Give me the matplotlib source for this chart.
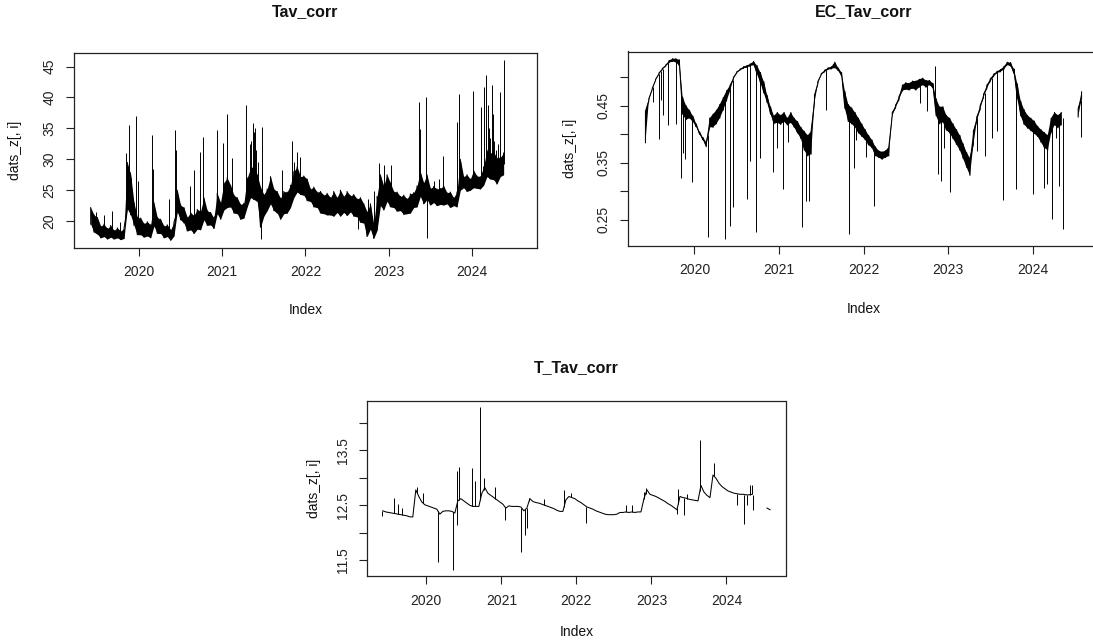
import numpy as np
import matplotlib
matplotlib.use("Agg")
import matplotlib.pyplot as plt

plt.rcParams["font.family"] = ["Liberation Sans", "DejaVu Sans"]

W, H = 1093, 642
nan = np.nan

# time index in decimal years, one row every 0.04 yr, from 2019.42 to 2024.58
index_start = 2019.42
index_step = 0.04
year_ticks = [2020, 2021, 2022, 2023, 2024]

# Tav_corr: lower and upper edge of the noisy band (one line per year)
tav_lo = [19.5, 18.2, 17.9, 17.3, 17.5, 17.1, 17.4, 17.1, 17.3, 17.0, 17.2, 22.0, 21.0, 19.3, 17.8,
          17.8, 17.4, 17.6, 17.3, 19.2, 18.0, 18.0, 17.3, 17.5, 16.9, 17.6, 21.5, 20.2, 19.7, 18.4,
          18.6, 18.0, 18.7, 18.6, 20.2, 19.3, 19.4, 18.8, 21.2, 20.3,
          21.8, 22.2, 22.3, 21.3, 21.2, 20.3, 20.5, 22.3, 23.8, 23.5, 23.2, 19.0, 20.8, 21.7, 22.8,
          21.7, 21.3, 20.3, 21.2, 21.3, 22.2, 23.8, 24.7, 24.3, 24.2,
          23.3, 23.2, 22.3, 22.2, 21.3, 21.2, 21.0, 21.0, 20.8, 21.4, 20.8, 21.4, 20.9, 21.5, 20.8,
          20.7, 19.8, 19.7, 17.5, 18.7, 17.2, 18.5, 22.5, 21.8, 23.2,
          22.3, 22.2, 21.6, 21.7, 21.1, 21.2, 21.3, 22.2, 22.3, 24.0, 22.8, 23.5, 22.6, 23.0, 22.5,
          22.7, 22.6, 22.8, 22.2, 22.5, 22.3, 25.0, 25.4, 24.8, 25.0,
          25.4, 25.3, 25.2, 25.8, 27.2, 26.8, 26.7, 26.0, 27.2, 27.5, nan, nan, nan, nan, nan]
tav_hi = [22.2, 21.0, 20.6, 19.2, 19.5, 18.8, 19.3, 18.5, 18.9, 18.4, 18.8, 29.5, 27.5, 23.0, 20.6,
          20.5, 19.6, 19.9, 19.4, 23.0, 20.6, 20.3, 19.2, 19.4, 18.6, 19.8, 25.0, 22.6, 22.2, 20.6,
          21.4, 20.9, 21.9, 21.6, 23.8, 21.7, 21.4, 20.5, 24.5, 23.0,
          26.2, 27.0, 25.8, 24.2, 23.8, 22.7, 22.9, 27.0, 28.5, 29.0, 27.5, 25.5, 24.3, 25.2, 27.2,
          25.2, 24.8, 23.7, 24.8, 24.7, 25.8, 28.0, 28.8, 27.2, 27.3,
          26.8, 25.2, 25.5, 24.7, 24.8, 24.2, 24.5, 23.8, 24.8, 23.8, 25.0, 24.0, 24.8, 24.1, 24.3,
          23.6, 23.8, 22.8, 21.5, 22.8, 19.5, 24.0, 27.5, 25.7, 27.5,
          26.2, 24.8, 24.7, 24.0, 24.2, 23.6, 24.4, 24.6, 25.7, 28.0, 26.2, 27.5, 25.3, 25.6, 25.2,
          25.3, 25.7, 24.6, 24.7, 23.8, 24.7, 30.0, 27.2, 27.5, 26.8,
          28.2, 27.3, 27.2, 28.8, 31.5, 31.0, 31.2, 30.2, 30.3, 31.0, nan, nan, nan, nan, nan]
tav_spike_t = [2019.486, 2019.586, 2019.679, 2019.767, 2019.847, 2019.880, 2019.895, 2019.905,
               2019.968, 2019.990, 2020.161, 2020.172, 2020.357, 2020.430, 2020.450, 2020.618,
               2020.663, 2020.731, 2020.775, 2020.932, 2021.004, 2021.052, 2021.120, 2021.281,
               2021.333, 2021.350, 2021.365, 2021.385, 2021.395, 2021.410, 2021.430, 2021.466,
               2021.474, 2021.723, 2021.835, 2021.859, 2021.904, 2021.930, 2022.630, 2022.755,
               2022.827, 2022.887, 2022.943, 2023.024, 2023.361, 2023.373, 2023.454, 2023.458,
               2023.550, 2023.600, 2023.651, 2023.819, 2023.839, 2024.012, 2024.108, 2024.149,
               2024.165, 2024.170, 2024.197, 2024.205, 2024.220, 2024.237, 2024.255, 2024.270,
               2024.290, 2024.310, 2024.340, 2024.380]
tav_spike_v = [21.4, 21.0, 21.7, 19.8, 31.0, 35.6, 28.0, 27.0,
               37.0, 26.5, 34.0, 28.5, 23.6, 34.8, 31.5, 25.7,
               28.3, 31.1, 33.6, 34.8, 32.6, 37.4, 30.2, 38.8,
               32.5, 33.0, 35.8, 34.4, 35.0, 31.5, 29.5, 17.1,
               35.2, 28.2, 33.0, 29.5, 31.2, 30.3, 18.7, 23.6,
               24.8, 29.4, 29.1, 29.0, 39.2, 34.9, 40.0, 17.2,
               26.5, 26.8, 30.6, 36.0, 40.5, 41.1, 38.4, 41.7,
               43.7, 36.0, 38.7, 35.0, 33.5, 42.0, 37.4, 33.0,
               31.5, 32.5, 40.8, 46.1]

# EC_Tav_corr: lower and upper edge of the line
ec_lo = [0.385, 0.458, 0.478, 0.494, 0.505, 0.513, 0.519, 0.525, 0.527, 0.526, 0.520, 0.435, 0.425, 0.428, 0.422,
         0.413, 0.400, 0.390, 0.378, 0.412, 0.412, 0.418, 0.428, 0.442, 0.458, 0.475, 0.496, 0.507, 0.512, 0.515,
         0.517, 0.519, 0.521, 0.505, 0.490, 0.472, 0.455, 0.435, 0.418, 0.420,
         0.417, 0.422, 0.416, 0.420, 0.412, 0.402, 0.392, 0.372, 0.362, 0.365, 0.455, 0.488, 0.504, 0.509, 0.513,
         0.514, 0.516, 0.511, 0.502, 0.445, 0.422, 0.418, 0.412, 0.402, 0.396,
         0.390, 0.381, 0.376, 0.362, 0.359, 0.356, 0.359, 0.362, 0.432, 0.446, 0.460, 0.476, 0.478, 0.477, 0.480,
         0.477, 0.482, 0.486, 0.482, 0.486, 0.481, 0.432, 0.418, 0.421, 0.407,
         0.402, 0.392, 0.382, 0.372, 0.357, 0.342, 0.328, 0.382, 0.422, 0.443, 0.464, 0.480, 0.492, 0.501, 0.507,
         0.509, 0.513, 0.521, 0.519, 0.506, 0.462, 0.432, 0.417, 0.411, 0.406,
         0.401, 0.396, 0.386, 0.376, 0.372, 0.402, 0.416, 0.411, 0.416, nan, nan, nan, nan, 0.430, 0.462]
ec_hi = [0.440, 0.462, 0.480, 0.496, 0.507, 0.515, 0.521, 0.529, 0.532, 0.532, 0.530, 0.465, 0.450, 0.442, 0.432,
         0.418, 0.404, 0.394, 0.386, 0.428, 0.435, 0.442, 0.452, 0.464, 0.476, 0.485, 0.499, 0.509, 0.514, 0.518,
         0.520, 0.523, 0.527, 0.520, 0.508, 0.492, 0.468, 0.448, 0.432, 0.438,
         0.433, 0.438, 0.428, 0.438, 0.428, 0.422, 0.412, 0.405, 0.398, 0.405, 0.468, 0.492, 0.506, 0.512, 0.516,
         0.518, 0.526, 0.516, 0.508, 0.475, 0.452, 0.446, 0.438, 0.428, 0.418,
         0.408, 0.398, 0.390, 0.378, 0.371, 0.369, 0.371, 0.378, 0.438, 0.451, 0.466, 0.486, 0.490, 0.489, 0.493,
         0.493, 0.496, 0.498, 0.494, 0.494, 0.489, 0.462, 0.448, 0.448, 0.433,
         0.428, 0.418, 0.408, 0.398, 0.383, 0.368, 0.358, 0.405, 0.430, 0.450, 0.470, 0.486, 0.497, 0.505, 0.510,
         0.513, 0.518, 0.526, 0.525, 0.514, 0.488, 0.458, 0.443, 0.433, 0.428,
         0.423, 0.414, 0.408, 0.403, 0.398, 0.428, 0.438, 0.433, 0.438, nan, nan, nan, nan, 0.445, 0.474]
ec_spike_t = [2019.510, 2019.577, 2019.605, 2019.625, 2019.684, 2019.783, 2019.846, 2019.870, 2019.889,
              2019.968, 2020.158, 2020.360, 2020.423, 2020.455, 2020.620, 2020.660, 2020.723, 2020.770,
              2020.929, 2020.980, 2021.051, 2021.107, 2021.206, 2021.273, 2021.324, 2021.356, 2021.561,
              2021.830, 2021.882, 2021.910, 2022.030, 2022.126, 2022.668, 2022.747, 2022.841, 2022.884,
              2022.912, 2022.951, 2023.018, 2023.344, 2023.434, 2023.521, 2023.580, 2023.646, 2023.807,
              2023.933, 2024.004, 2024.141, 2024.169, 2024.228, 2024.279, 2024.318, 2024.357, 2024.570]
ec_spike_v = [0.457, 0.392, 0.460, 0.434, 0.416, 0.417, 0.323, 0.367, 0.356,
              0.316, 0.221, 0.217, 0.240, 0.272, 0.286, 0.353, 0.229, 0.359,
              0.333, 0.376, 0.304, 0.387, 0.405, 0.237, 0.283, 0.283, 0.442,
              0.226, 0.341, 0.390, 0.360, 0.275, 0.455, 0.440, 0.520, 0.330,
              0.318, 0.375, 0.298, 0.370, 0.361, 0.393, 0.405, 0.285, 0.304,
              0.410, 0.295, 0.306, 0.312, 0.252, 0.393, 0.310, 0.234, 0.395]

# T_Tav_corr: single line
t_val = [12.40, 12.38, 12.37, 12.36, 12.35, 12.34, 12.33, 12.32, 12.31, 12.29, 12.29, 12.78, 12.66, 12.56, 12.51,
         12.49, 12.47, 12.45, 12.43, 12.34, 12.39, 12.40, 12.40, 12.39, 12.36, 12.58, 12.62, 12.58, 12.54, 12.50,
         12.48, 12.48, 12.48, 12.72, 12.82, 12.72, 12.68, 12.64, 12.60, 12.56,
         12.52, 12.45, 12.49, 12.48, 12.48, 12.48, 12.47, 12.40, 12.45, 12.62, 12.57, 12.55, 12.54, 12.52, 12.50,
         12.48, 12.46, 12.44, 12.41, 12.39, 12.39, 12.60, 12.66, 12.64, 12.62,
         12.58, 12.55, 12.51, 12.47, 12.45, 12.43, 12.40, 12.38, 12.36, 12.34, 12.33, 12.33, 12.33, 12.34, 12.37,
         12.37, 12.38, 12.37, 12.38, 12.37, 12.38, 12.38, 12.62, 12.78, 12.70,
         12.68, 12.66, 12.63, 12.60, 12.57, 12.53, 12.50, 12.46, 12.42, 12.66, 12.64, 12.63, 12.61, 12.60, 12.59,
         12.58, 12.86, 12.74, 12.68, 12.64, 13.05, 12.99, 12.90, 12.84, 12.80,
         12.76, 12.74, 12.72, 12.71, 12.70, 12.70, 12.69, 12.69, 12.70, nan, nan, nan, nan, 12.45, 12.42]
t_spike_t = [2019.413, 2019.569, 2019.622, 2019.676, 2019.876, 2019.956, 2020.156, 2020.351, 2020.409,
             2020.413, 2020.431, 2020.604, 2020.653, 2020.720, 2020.764, 2020.920, 2021.053, 2021.267,
             2021.320, 2021.342, 2021.369, 2021.564, 2021.836, 2021.925, 2022.133, 2022.665, 2022.736,
             2022.900, 2022.922, 2023.344, 2023.357, 2023.432, 2023.477, 2023.645, 2023.831, 2024.142,
             2024.240, 2024.275, 2024.319, 2024.341, 2024.350]
t_spike_v = [12.30, 12.64, 12.52, 12.45, 12.84, 12.72, 11.48, 11.33, 13.12,
             12.14, 13.20, 13.18, 12.94, 14.28, 12.99, 12.84, 12.23, 11.66,
             11.96, 12.08, 12.64, 12.62, 12.78, 12.72, 12.17, 12.51, 12.50,
             12.75, 12.82, 12.35, 12.80, 12.33, 12.70, 13.68, 13.26, 12.51,
             12.16, 12.51, 12.86, 12.86, 12.42]


def r_range(lo, hi):
    # R's default axis range: data range plus 4 %
    pad = 0.04 * (hi - lo)
    return lo - pad, hi + pad


def box(left, top, right, bottom):
    return [left / W, 1 - bottom / H, (right - left) / W, (bottom - top) / H]


def draw_panel(fig, rect, lo, hi, spike_t, spike_v, yticks, ylabels):
    lo = np.array(lo, dtype=float)
    hi = np.array(hi, dtype=float)
    t = index_start + index_step * np.arange(len(lo))
    ax = fig.add_axes(rect)
    ax.fill_between(t, lo, hi, color="black", linewidth=0)
    # the noisy trace: up and down between the low and high value of each row
    ax.plot(np.repeat(t, 2), np.column_stack([lo, hi]).ravel(),
            color="black", linewidth=0.75)
    mid = (lo + hi) / 2
    ok = ~np.isnan(mid)
    base = np.interp(spike_t, t[ok], mid[ok])
    ax.vlines(spike_t, base, spike_v, color="black", linewidth=0.7)

    ax.set_xlim(*r_range(t[0], t[-1]))
    ymin = min(np.nanmin(lo), min(spike_v))
    ymax = max(np.nanmax(hi), max(spike_v))
    ax.set_ylim(*r_range(ymin, ymax))

    ax.set_xticks(year_ticks)
    ax.set_xticklabels([str(y) for y in year_ticks])
    ax.set_yticks(yticks)
    ax.set_yticklabels(ylabels, rotation=90, va="center")
    ax.tick_params(direction="out", length=5.5, width=0.8, colors="#222222",
                   labelsize=10, pad=7)
    for s in ax.spines.values():
        s.set_color("#222222")
        s.set_linewidth(0.9)
    return ax


fig = plt.figure(figsize=(W / 100, H / 100), dpi=100)

p1 = (73.5, 52.5, 537.4, 247.5)
p2 = (628.0, 51.5, 1099.0, 246.0)
p3 = (367.3, 400.7, 785.5, 576.3)

draw_panel(fig, box(*p1), tav_lo, tav_hi, tav_spike_t, tav_spike_v,
           [20, 25, 30, 35, 40, 45], ["20", "25", "30", "35", "40", "45"])
draw_panel(fig, box(*p2), ec_lo, ec_hi, ec_spike_t, ec_spike_v,
           [0.25, 0.30, 0.35, 0.40, 0.45, 0.50], ["0.25", "", "0.35", "", "0.45", ""])
draw_panel(fig, box(*p3), t_val, t_val, t_spike_t, t_spike_v,
           [11.5, 12.0, 12.5, 13.0, 13.5, 14.0], ["11.5", "", "12.5", "", "13.5", ""])


def ftext(x, y, s, **kw):
    fig.text(x / W, 1 - y / H, s, ha="center", va="center", color="#111111", **kw)


for title, (l, t, r, b), ty in [("Tav_corr", p1, 12), ("EC_Tav_corr", p2, 12),
                                 ("T_Tav_corr", p3, 368)]:
    cx = (l + r) / 2
    ftext(cx, ty, title, fontsize=11.5, fontweight="bold")
    ftext(cx, b + 63 if b < 300 else b + 56, "Index", fontsize=10)

ftext(15, 150, "dats_z[, i]", fontsize=10, rotation=90)
ftext(570, 148, "dats_z[, i]", fontsize=10, rotation=90)
ftext(314, 488, "dats_z[, i]", fontsize=10, rotation=90)

fig.savefig("out.png", dpi=100)
